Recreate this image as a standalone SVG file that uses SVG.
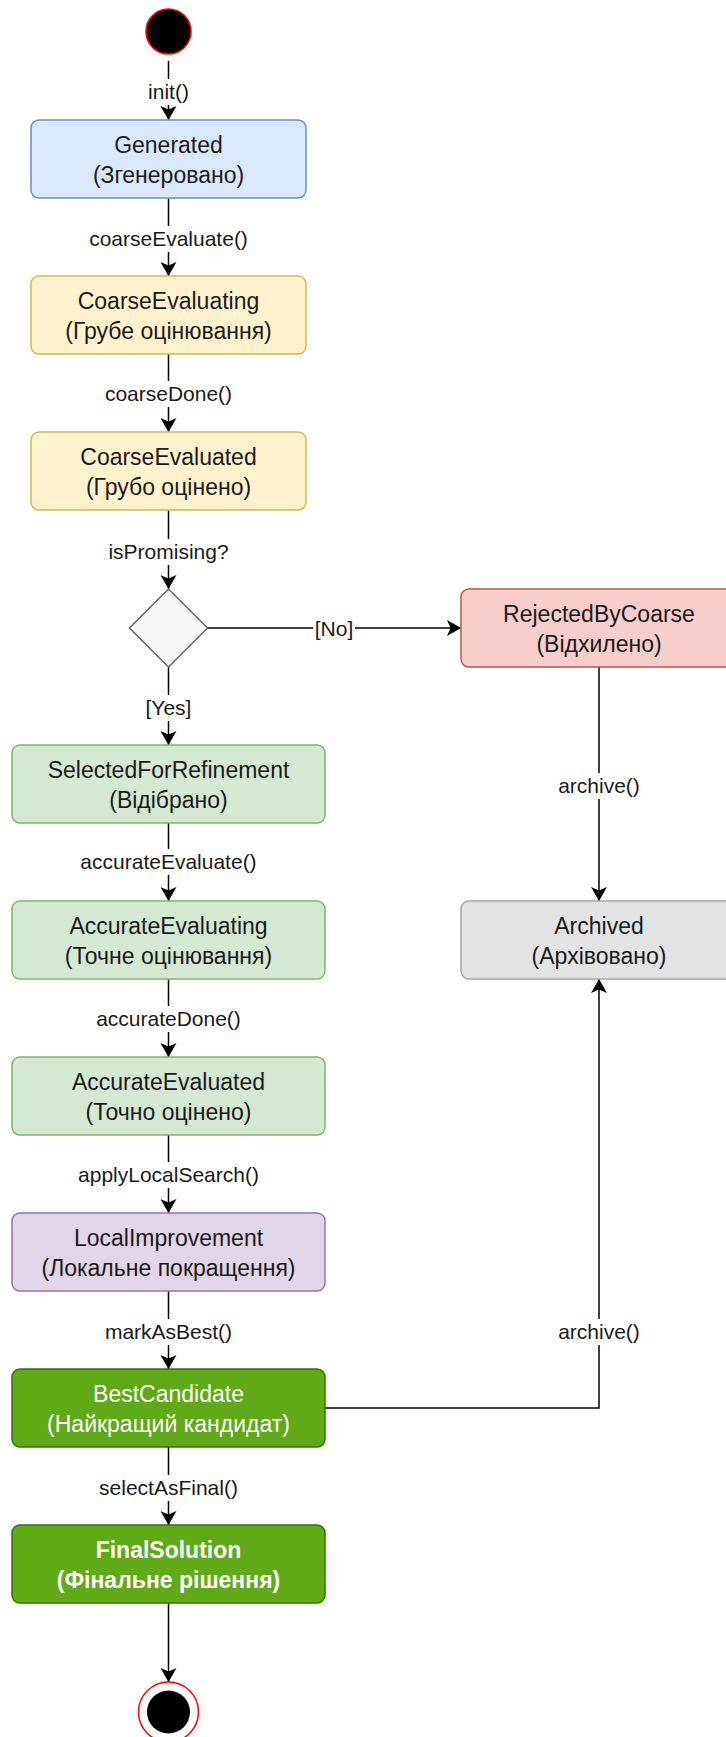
<svg xmlns="http://www.w3.org/2000/svg" width="726" height="1737" viewBox="0 0 726 1737">
<style>
  text { font-family: "Liberation Sans", Arial, sans-serif; text-anchor: middle; }
  .nt { font-size: 23px; fill: #1a1a1a; }
  .wt { font-size: 23px; fill: #ffffff; }
  .bt { font-size: 23px; fill: #ffffff; font-weight: bold; }
  .lt { font-size: 21px; fill: #1a1a1a; }
  .lb { fill: #ffffff; }
  .edge { stroke: #000000; stroke-width: 1.5; fill: none; marker-end: url(#arr); }
  .plain { stroke: #000000; stroke-width: 1.5; fill: none; }
  .blue { fill: #dae8fc; stroke: #6c8ebf; stroke-width: 1.5; }
  .yel { fill: #fff2cc; stroke: #d6b656; stroke-width: 1.5; }
  .red { fill: #f8cecc; stroke: #b85450; stroke-width: 1.5; }
  .grn { fill: #d5e8d4; stroke: #82b366; stroke-width: 1.5; }
  .pur { fill: #e1d5e7; stroke: #9673a6; stroke-width: 1.5; }
  .gry { fill: #e3e3e3; stroke: #a6a6a6; stroke-width: 1.5; }
  .dg { fill: #60a917; stroke: #2d7600; stroke-width: 1.5; }
</style>
<defs>
  <marker id="arr" markerUnits="userSpaceOnUse" markerWidth="14" markerHeight="16" viewBox="0 0 14 16" refX="14" refY="8" orient="auto">
    <path d="M0,0 L14,8 L0,16 L3.5,8 Z" fill="#000000"/>
  </marker>
</defs>

<g id="connectors">
  <path class="edge" d="M168.5,61 V120"/>
  <path class="edge" d="M168.5,198 V276"/>
  <path class="edge" d="M168.5,354 V432"/>
  <path class="edge" d="M168.5,510 V589"/>
  <path class="edge" d="M207.5,628 H461"/>
  <path class="edge" d="M168.5,667 V745"/>
  <path class="edge" d="M168.5,823 V901"/>
  <path class="edge" d="M168.5,979 V1057"/>
  <path class="edge" d="M168.5,1135 V1213"/>
  <path class="edge" d="M168.5,1291 V1369"/>
  <path class="edge" d="M168.5,1447 V1525"/>
  <path class="edge" d="M168.5,1603 V1682"/>
  <path class="edge" d="M599,667 V901"/>
  <path class="edge" d="M325,1408 H599 V979"/>

  <rect class="lb" x="146" y="79" width="45" height="26"/>
  <text class="lt" x="168.5" y="99">init()</text>
  <rect class="lb" x="87" y="226" width="163" height="26"/>
  <text class="lt" x="168.5" y="246">coarseEvaluate()</text>
  <rect class="lb" x="103" y="381" width="131" height="26"/>
  <text class="lt" x="168.5" y="401">coarseDone()</text>
  <rect class="lb" x="107" y="539" width="124" height="26"/>
  <text class="lt" x="168.5" y="559">isPromising?</text>
  <rect class="lb" x="313" y="616" width="42" height="26"/>
  <text class="lt" x="334" y="636">[No]</text>
  <rect class="lb" x="143" y="695" width="52" height="26"/>
  <text class="lt" x="168.5" y="715">[Yes]</text>
  <rect class="lb" x="79" y="849" width="180" height="26"/>
  <text class="lt" x="168.5" y="869">accurateEvaluate()</text>
  <rect class="lb" x="95" y="1006" width="149" height="26"/>
  <text class="lt" x="168.5" y="1026">accurateDone()</text>
  <rect class="lb" x="77" y="1162" width="185" height="26"/>
  <text class="lt" x="168.5" y="1182">applyLocalSearch()</text>
  <rect class="lb" x="104" y="1319" width="131" height="26"/>
  <text class="lt" x="168.5" y="1339">markAsBest()</text>
  <rect class="lb" x="98" y="1475" width="143" height="26"/>
  <text class="lt" x="168.5" y="1495">selectAsFinal()</text>
  <rect class="lb" x="556" y="773" width="86" height="26"/>
  <text class="lt" x="599" y="793">archive()</text>
  <rect class="lb" x="556" y="1319" width="86" height="26"/>
  <text class="lt" x="599" y="1339">archive()</text>
</g>

<g id="start">
  <circle cx="168.5" cy="31.5" r="22.5" fill="#000000" stroke="#ff0000" stroke-width="1.5"/>
</g>

<g id="generated">
  <rect class="blue" x="31" y="120" width="275" height="78" rx="8"/>
  <text class="nt" x="168.5" y="153">Generated</text>
  <text class="nt" x="168.5" y="183">(Згенеровано)</text>
</g>

<g id="coarseEvaluating">
  <rect class="yel" x="31" y="276" width="275" height="78" rx="8"/>
  <text class="nt" x="168.5" y="309">CoarseEvaluating</text>
  <text class="nt" x="168.5" y="339">(Грубе оцінювання)</text>
</g>

<g id="coarseEvaluated">
  <rect class="yel" x="31" y="432" width="275" height="78" rx="8"/>
  <text class="nt" x="168.5" y="465">CoarseEvaluated</text>
  <text class="nt" x="168.5" y="495">(Грубо оцінено)</text>
</g>

<g id="decision">
  <polygon points="168.5,589 207.5,628 168.5,667 129.5,628" fill="#f5f5f5" stroke="#666666" stroke-width="1.5"/>
</g>

<g id="rejectedByCoarse">
  <rect class="red" x="461" y="589" width="276" height="78" rx="8"/>
  <text class="nt" x="599" y="622">RejectedByCoarse</text>
  <text class="nt" x="599" y="652">(Відхилено)</text>
</g>

<g id="selectedForRefinement">
  <rect class="grn" x="12" y="745" width="313" height="78" rx="8"/>
  <text class="nt" x="168.5" y="778">SelectedForRefinement</text>
  <text class="nt" x="168.5" y="808">(Відібрано)</text>
</g>

<g id="accurateEvaluating">
  <rect class="grn" x="12" y="901" width="313" height="78" rx="8"/>
  <text class="nt" x="168.5" y="934">AccurateEvaluating</text>
  <text class="nt" x="168.5" y="964">(Точне оцінювання)</text>
</g>

<g id="archived">
  <rect class="gry" x="461" y="901" width="276" height="78" rx="8"/>
  <text class="nt" x="599" y="934">Archived</text>
  <text class="nt" x="599" y="964">(Архівовано)</text>
</g>

<g id="accurateEvaluated">
  <rect class="grn" x="12" y="1057" width="313" height="78" rx="8"/>
  <text class="nt" x="168.5" y="1090">AccurateEvaluated</text>
  <text class="nt" x="168.5" y="1120">(Точно оцінено)</text>
</g>

<g id="localImprovement">
  <rect class="pur" x="12" y="1213" width="313" height="78" rx="8"/>
  <text class="nt" x="168.5" y="1246">LocalImprovement</text>
  <text class="nt" x="168.5" y="1276">(Локальне покращення)</text>
</g>

<g id="bestCandidate">
  <rect class="dg" x="12" y="1369" width="313" height="78" rx="8"/>
  <text class="wt" x="168.5" y="1402">BestCandidate</text>
  <text class="wt" x="168.5" y="1432">(Найкращий кандидат)</text>
</g>

<g id="finalSolution">
  <rect class="dg" x="12" y="1525" width="313" height="78" rx="8"/>
  <text class="bt" x="168.5" y="1558">FinalSolution</text>
  <text class="bt" x="168.5" y="1588">(Фінальне рішення)</text>
</g>

<g id="end">
  <circle cx="168.5" cy="1712" r="30" fill="#ffffff" stroke="#ff0000" stroke-width="1.5"/>
  <circle cx="168.5" cy="1712" r="21.5" fill="#000000"/>
</g>
</svg>
